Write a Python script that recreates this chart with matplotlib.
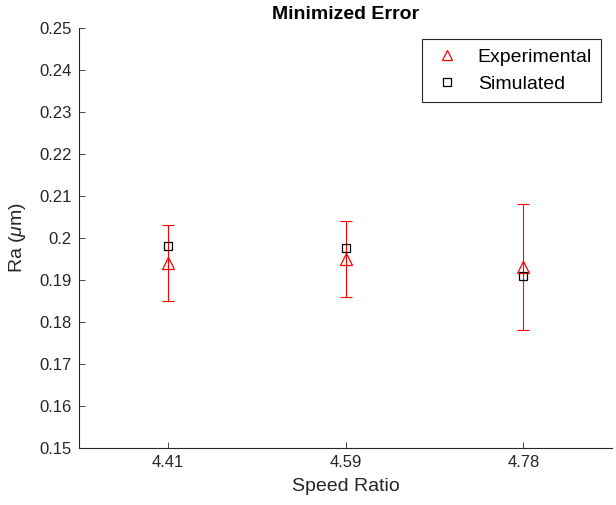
import matplotlib.pyplot as plt
import numpy as np

plt.rcParams['font.family'] = ['Liberation Sans', 'DejaVu Sans']
plt.rcParams['mathtext.fontset'] = 'custom'
plt.rcParams['mathtext.it'] = 'Liberation Sans:italic'
plt.rcParams['mathtext.rm'] = 'Liberation Sans'

speed_ratio = ['4.41', '4.59', '4.78']
experimental = [0.194, 0.195, 0.193]
exp_low = [0.185, 0.186, 0.178]
exp_high = [0.203, 0.204, 0.208]
simulated = [0.198, 0.1977, 0.191]

x = np.arange(1, len(speed_ratio) + 1)
exp = np.array(experimental)
yerr = [exp - np.array(exp_low), np.array(exp_high) - exp]

fig = plt.figure(figsize=(6.16, 5.05), dpi=100)
ax = fig.add_axes([0.128, 0.113, 0.866, 0.832])

ax.errorbar(x, exp, yerr=yerr, fmt='none', ecolor='red', elinewidth=0.8,
            capsize=4, capthick=0.8)
ax.plot(x, exp, linestyle='none', marker='^', markersize=9,
        markerfacecolor='none', markeredgecolor='red', markeredgewidth=0.9,
        label='Experimental')
ax.plot(x, simulated, linestyle='none', marker='s', markersize=6,
        markerfacecolor='none', markeredgecolor='black', markeredgewidth=0.9,
        label='Simulated')

yt = np.round(np.arange(0.15, 0.2501, 0.01), 2)
ax.set_xlim(0.5, 3.5)
ax.set_ylim(0.15, 0.25)
ax.set_xticks(x)
ax.set_xticklabels(speed_ratio)
ax.set_yticks(yt)
ax.set_yticklabels(['%g' % v for v in yt])
ax.tick_params(direction='in', labelsize=12, length=4, width=0.6, colors='#262626', pad=5)
for s in ['top', 'right']:
    ax.spines[s].set_visible(False)
for s in ['left', 'bottom']:
    ax.spines[s].set_linewidth(0.8)
    ax.spines[s].set_color('#262626')

ax.set_xlabel('Speed Ratio', fontsize=14, color='#262626', labelpad=6)
ax.set_ylabel(r'Ra ($\mu$m)', fontsize=14, color='#262626', labelpad=8)
ax.set_title('Minimized Error', fontsize=14, fontweight='bold', pad=6)

leg = ax.legend(loc='upper right', fontsize=14, fancybox=False, framealpha=1,
                edgecolor='#262626', borderaxespad=0.6, handletextpad=0.8,
                handlelength=1.6, borderpad=0.45, labelspacing=0.5, markerscale=0.85)
leg.get_frame().set_linewidth(0.8)

fig.savefig('out.png', dpi=100)
